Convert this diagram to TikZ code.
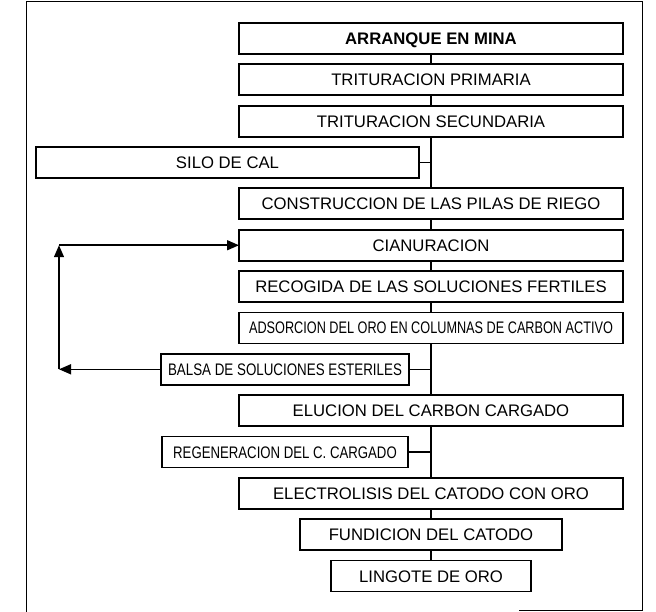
\documentclass[tikz,border=0pt]{standalone}
\usepackage{fontspec}
\setmainfont{Liberation Sans}
\usepackage{graphicx}
\usepackage{tikz}
\usetikzlibrary{arrows.meta, positioning, calc}
\tikzset{
  box/.style={rectangle, draw=black, line width=1.8pt, fill=white, minimum height=31pt,
              inner sep=0pt, outer sep=0pt, text height=12pt, text depth=0pt, align=center,
              font=\fontsize{16.7}{20}\selectfont},
  link/.style={draw=black, line width=1.5pt},
  flow/.style={-{Triangle[length=12pt, width=10pt]}, draw=black, line width=1.5pt},
  frame/.style={draw=black, line width=1pt}
}

\begin{document}
\begin{tikzpicture}[node distance=10.35pt]
  \useasboundingbox (0,0) rectangle (656pt,-612pt);
  \draw[frame] (26pt,-612pt) -- (26pt,-2pt) -- (642pt,-2pt) -- (642pt,-610pt) -- (519pt,-610pt);

  \node[box, minimum width=384pt, font=\fontsize{16.7}{20}\selectfont\bfseries] (arranque) at (431pt,-38.5pt) {ARRANQUE EN MINA};
  \node[box, below=of arranque, minimum width=384pt] (tprim) {TRITURACION PRIMARIA};
  \node[box, below=of tprim, minimum width=384pt] (tsec) {TRITURACION SECUNDARIA};
  \node[box, below=51.7pt of tsec, minimum width=384pt] (pilas) {CONSTRUCCION DE LAS PILAS DE RIEGO};
  \node[box, below=of pilas, minimum width=384pt] (cianur) {CIANURACION};
  \node[box, below=of cianur, minimum width=384pt] (recog) {RECOGIDA DE LAS SOLUCIONES FERTILES};
  \node[box, below=of recog, minimum width=384pt] (adsorc) {\scalebox{0.76}[1]{ADSORCION DEL ORO EN COLUMNAS DE CARBON ACTIVO}};
  \node[box, below=51.7pt of adsorc, minimum width=384pt] (eluc) {ELUCION DEL CARBON CARGADO};
  \node[box, below=51.7pt of eluc, minimum width=384pt] (electro) {ELECTROLISIS DEL CATODO CON ORO};
  \node[box, below=of electro, minimum width=262pt] (fundic) {FUNDICION DEL CATODO};
  \node[box, below=of fundic, minimum width=200pt] (lingote) {LINGOTE DE ORO};

  \node[box, anchor=east, minimum width=383pt] (silo) at ($(tsec)!0.5!(pilas)+(-12pt,0)$) {SILO DE CAL};
  \node[box, anchor=east, minimum width=248pt] (balsa) at ($(adsorc)!0.5!(eluc)+(-22pt,0)$) {\scalebox{0.8}[1]{BALSA DE SOLUCIONES ESTERILES}};
  \node[box, anchor=east, minimum width=246pt] (regen) at ($(eluc)!0.5!(electro)+(-23pt,0)$) {\scalebox{0.79}[1]{REGENERACION DEL C. CARGADO}};

  \coordinate (retbot) at ($(balsa.west)+(-102pt,0)$);
  \coordinate (rettop) at (retbot |- cianur.west);

  \draw[link] (arranque) -- (tprim);
  \draw[link] (tprim) -- (tsec);
  \draw[link] (tsec) -- (pilas);
  \draw[link] (pilas) -- (cianur);
  \draw[link] (cianur) -- (recog);
  \draw[link] (recog) -- (adsorc);
  \draw[link] (adsorc) -- (eluc);
  \draw[link] (eluc) -- (electro);
  \draw[link] (electro) -- (fundic);
  \draw[link] (fundic) -- (lingote);
  \draw[link] (silo.east) -- (silo.east -| pilas);
  \draw[link] (balsa.east) -- (balsa.east -| eluc);
  \draw[link] (regen.east) -- (regen.east -| eluc);

  \draw[flow] (balsa.west) -- (retbot);
  \draw[flow] (retbot) -- (rettop);
  \draw[flow] (rettop) -- (cianur.west);
\end{tikzpicture}
\end{document}
